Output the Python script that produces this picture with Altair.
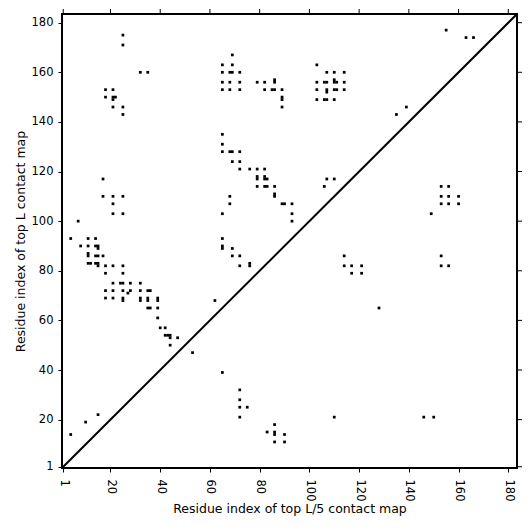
import altair as alt
import pandas as pd

# Axis range (residue index) and tick values
DOMAIN = [0.5, 183.5]
TICKS = [1, 20, 40, 60, 80, 100, 120, 140, 160, 180]

# Contacts: x = residue index (top L/5 map), y = residue index (top L map)
upper_x = [25, 25, 32, 35, 18, 21, 18, 21, 22, 21, 21, 25, 25,
           69, 65, 69, 65, 68, 69, 72, 65, 68, 72, 65, 68, 72, 79, 82, 86, 86, 82, 85, 86, 89,
           89, 89, 89, 103, 107, 110, 114, 103, 106, 107, 110, 110, 111, 114, 103, 107, 107,
           110, 111, 114, 103, 106, 107, 110, 65, 65, 65, 68, 69, 72, 69, 72, 72, 76, 79, 82,
           17, 17, 21, 25, 21, 21, 25, 7, 4, 11, 14, 8, 11, 14, 15, 15, 11, 11, 14, 15, 17,
           11, 12, 14, 15, 15, 18, 21, 25, 18, 25, 21, 24, 25, 28, 32, 18, 21, 25, 28, 27, 32,
           35, 36, 18, 21, 25, 25, 32, 32, 35, 35, 39, 39, 35, 36, 39, 39, 62,
           79, 79, 82, 82, 83, 79, 82, 83, 86, 86, 86, 89, 90, 93, 93, 93, 68, 68, 65, 65, 65,
           65, 69, 69, 72, 72, 76, 76, 107, 110, 106,
           40, 42, 42, 43, 44, 44, 47, 44, 53, 15, 10, 4,
           155, 163, 166, 139, 135]
upper_y = [175, 171, 160, 160, 153, 153, 150, 150, 150, 149, 146, 146, 143,
           167, 163, 163, 160, 160, 160, 160, 156, 156, 156, 153, 153, 153, 156, 156, 157, 156, 153, 153, 153, 153,
           150, 149, 146, 163, 160, 160, 160, 156, 156, 156, 157, 156, 156, 156, 153, 153, 152,
           153, 153, 153, 149, 149, 149, 149, 135, 131, 128, 128, 128, 128, 124, 124, 121, 121, 121, 121,
           117, 110, 110, 110, 107, 103, 103, 100, 93, 93, 93, 90, 90, 90, 90, 89, 87, 86, 86, 86, 86,
           83, 83, 83, 83, 82, 82, 82, 82, 79, 79, 75, 75, 75, 75, 75, 72, 72, 72, 72, 71, 72,
           72, 72, 69, 69, 69, 68, 69, 68, 69, 68, 69, 68, 65, 65, 65, 61, 68,
           118, 117, 118, 117, 117, 114, 114, 114, 114, 111, 110, 107, 107, 107, 103, 100, 110, 107, 103, 93, 90,
           89, 89, 86, 86, 82, 83, 82, 117, 117, 114,
           57, 57, 54, 54, 54, 53, 53, 50, 47, 22, 19, 14,
           177, 174, 174, 146, 143]

lower_x = [114, 114, 117, 121, 117, 121,
           153, 156, 153, 156, 160, 153, 156, 160, 149, 153, 153, 156, 128,
           65, 72, 72, 72, 75, 72, 86, 83, 86, 86, 90, 86, 90, 110,
           146, 150]
lower_y = [86, 82, 82, 82, 79, 79,
           114, 114, 110, 110, 110, 107, 107, 107, 103, 86, 82, 82, 65,
           39, 32, 28, 25, 25, 21, 18, 15, 15, 14, 14, 11, 11, 21,
           21, 21]

pts = pd.DataFrame({"x": upper_x + lower_x, "y": upper_y + lower_y})
diag = pd.DataFrame({"x": DOMAIN, "y": DOMAIN})
ticks = pd.DataFrame({"t": TICKS})

xs = alt.Scale(domain=DOMAIN, nice=False, zero=False)
ys = alt.Scale(domain=DOMAIN, nice=False, zero=False)

FONT = "DejaVu Sans"

main_x_axis = alt.Axis(values=TICKS, labelAngle=90, labelFontSize=11.5, labelFont=FONT,
                       labelColor="black", labelPadding=7, tickSize=4, tickColor="black",
                       tickWidth=1, domain=False, grid=False, titleFont=FONT,
                       titleFontSize=12.5, titleFontWeight="normal", titleColor="black",
                       titlePadding=2, title="Residue index of top L/5 contact map")
main_y_axis = alt.Axis(values=TICKS, labelFontSize=11.5, labelFont=FONT,
                       labelColor="black", labelPadding=5, tickSize=4, tickColor="black",
                       tickWidth=1, domain=False, grid=False, titleFont=FONT,
                       titleFontSize=12.5, titleFontWeight="normal", titleColor="black",
                       titlePadding=4, title="Residue index of top L contact map")

points = alt.Chart(pts).mark_square(size=7.5, color="black", opacity=1, strokeWidth=0).encode(
    x=alt.X("x:Q", scale=xs, axis=main_x_axis),
    y=alt.Y("y:Q", scale=ys, axis=main_y_axis),
)

line = alt.Chart(diag).mark_line(color="black", strokeWidth=2).encode(
    x=alt.X("x:Q", scale=xs),
    y=alt.Y("y:Q", scale=ys),
)

# outward tick marks on the top and right frame edges
top_ticks = alt.Chart(ticks).mark_rule(color="black", strokeWidth=1, y2Offset=-5).encode(
    x=alt.X("t:Q", scale=xs),
    y=alt.datum(DOMAIN[1], scale=ys),
    y2=alt.datum(DOMAIN[1]),
)
right_ticks = alt.Chart(ticks).mark_rule(color="black", strokeWidth=1, x2Offset=5).encode(
    y=alt.Y("t:Q", scale=ys),
    x=alt.datum(DOMAIN[1], scale=xs),
    x2=alt.datum(DOMAIN[1]),
)

chart = alt.layer(points, line, top_ticks, right_ticks).properties(
    width=455, height=454,
    padding={"left": 54, "top": 6, "right": 6, "bottom": 55},
    autosize=alt.AutoSizeParams(type="none"),
).configure_view(stroke="black", strokeWidth=2)

chart.save("out.html", embed_options={"renderer": "svg", "actions": False})
